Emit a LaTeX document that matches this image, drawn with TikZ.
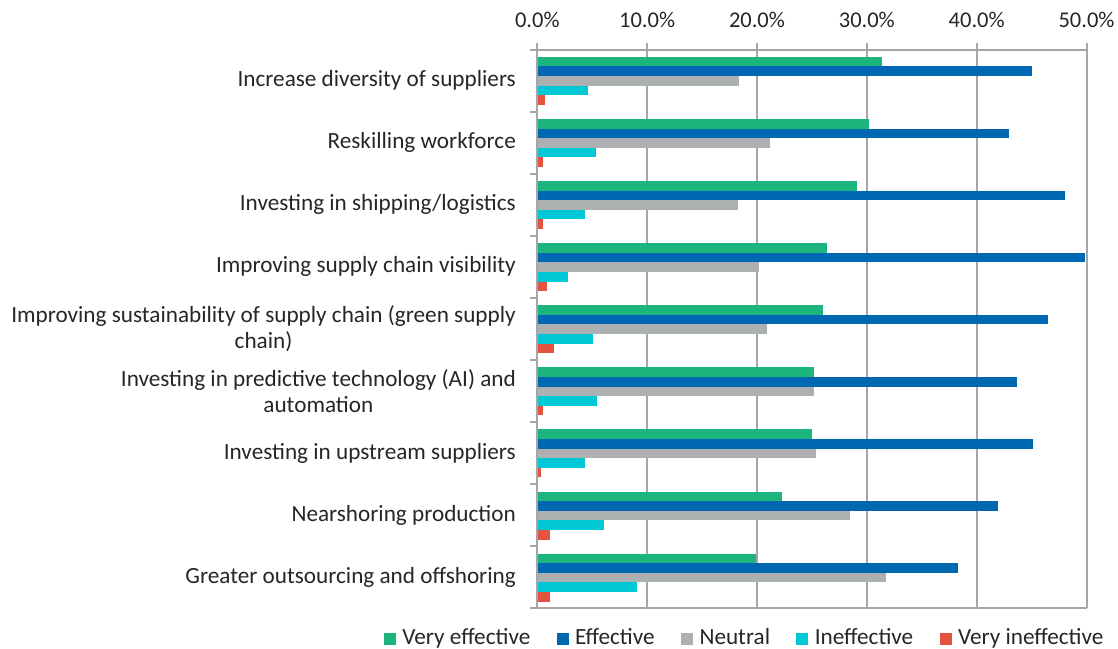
\documentclass[tikz,border=0pt]{standalone}
\usepackage{fontspec}
\setmainfont{Carlito}
\usetikzlibrary{positioning}

\definecolor{veff}{HTML}{1DB57E}
\definecolor{eff}{HTML}{0068B2}
\definecolor{neut}{HTML}{ADB0B0}
\definecolor{ineff}{HTML}{00C8D4}
\definecolor{vineff}{HTML}{E4533F}
\definecolor{gridc}{HTML}{A6A6A6}

\tikzset{
	lbl/.style={anchor=east, align=center, inner sep=0pt, font=\fontsize{23.2}{26}\selectfont, text=black!85},
	ticklbl/.style={inner sep=0pt, font=\fontsize{22.5}{26}\selectfont, text=black!85},
	gridln/.style={draw=gridc, line width=2pt},
	keybox/.style={minimum size=12pt, inner sep=0pt},
	keytext/.style={inner sep=0pt, text height=15pt, text depth=5pt, font=\fontsize{23.2}{26}\selectfont, text=black!85}
}

\begin{document}
\begin{tikzpicture}[x=1pt,y=-1pt]
		\useasboundingbox (0,0) rectangle (1118,648);
		\foreach \k in {1,...,5}
			\draw[gridln] (537.3+109.84*\k,43) -- (537.3+109.84*\k,608.4);
		\draw[gridln] (537.3,43) -- (537.3,608.4);
		\draw[gridln] (530,49.5) -- (1086.5,49.5);
		\draw[gridln] (530,608.4) -- (1086.5,608.4);
		\foreach \i in {0,...,9}
			\draw[gridln] (530,49.5+62.1*\i) -- (537.3,49.5+62.1*\i);
		\foreach \p [count=\k from 0] in {0.0,10.0,20.0,30.0,40.0,50.0}
			\node[ticklbl] (t\k) at (537.3+109.84*\k,20) {\p\%};
		\foreach \va/\vb/\vc/\vd/\ve [count=\i from 0] in {
				31.4/45.0/18.4/4.6/0.7, 30.2/42.9/21.2/5.3/0.5, 29.1/48.0/18.3/4.3/0.5,
				26.4/49.9/20.2/2.8/0.9, 26.0/46.5/20.9/5.1/1.5, 25.2/43.7/25.2/5.4/0.5,
				25.0/45.1/25.4/4.3/0.3, 22.3/41.9/28.5/6.1/1.2, 19.9/38.3/31.7/9.1/1.2}
			\foreach \v/\col [count=\j from 0] in {\va/veff,\vb/eff,\vc/neut,\vd/ineff,\ve/vineff}
				\fill[\col] (538.3,49.5+62.1*\i+7.3+9.6*\j) rectangle ++(10.984*\v-1,9.6);
		\node[lbl] (c1) at (516,80.55) {Increase diversity of suppliers};
		\node[lbl] (c2) at (516,142.65) {Reskilling workforce};
		\node[lbl] (c3) at (516,204.75) {Investing in shipping/logistics};
		\node[lbl] (c4) at (516,266.85) {Improving supply chain visibility};
		\node[lbl] (c5) at (516,328.95) {Improving sustainability of supply chain (green supply\\chain)};
		\node[lbl] (c6) at (516,391.05) {Investing in predictive technology (AI) and\\automation};
		\node[lbl] (c7) at (516,453.15) {Investing in upstream suppliers};
		\node[lbl] (c8) at (516,515.25) {Nearshoring production};
		\node[lbl] (c9) at (516,577.35) {Greater outsourcing and offshoring};
		\node[keybox, fill=veff] (k1) at (390,639) {};
		\node[keytext, right=6pt of k1] (l1) {Very effective};
		\node[keybox, fill=eff, right=26pt of l1] (k2) {};
		\node[keytext, right=6pt of k2] (l2) {Effective};
		\node[keybox, fill=neut, right=26pt of l2] (k3) {};
		\node[keytext, right=6pt of k3] (l3) {Neutral};
		\node[keybox, fill=ineff, right=26pt of l3] (k4) {};
		\node[keytext, right=6pt of k4] (l4) {Ineffective};
		\node[keybox, fill=vineff, right=26pt of l4] (k5) {};
		\node[keytext, right=6pt of k5] (l5) {Very ineffective};
	\end{tikzpicture}
\end{document}
